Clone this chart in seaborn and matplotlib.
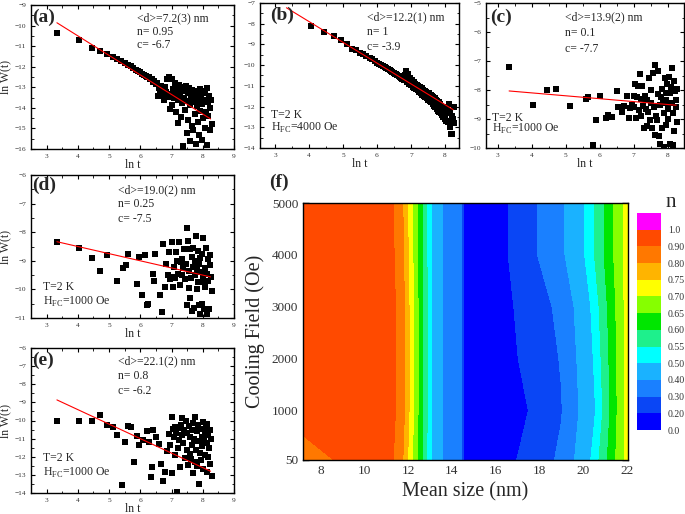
import matplotlib.pyplot as plt
import matplotlib.ticker as mticker
import seaborn as sns

sns.set_theme(style="ticks")
plt.rcParams["font.family"] = ["Liberation Serif", "DejaVu Serif"]
plt.rcParams["mathtext.fontset"] = "custom"
plt.rcParams["mathtext.rm"] = "Liberation Serif"
plt.rcParams["axes.linewidth"] = 1.0
plt.rcParams["axes.edgecolor"] = "black"

# ---------------------------------------------------------------
# data
# ---------------------------------------------------------------
fit_range = [3.33, 8.25]

# (a) <d>=7.2 nm
lnt_a = [3.33, 4.04, 4.44, 4.72, 4.94, 5.11, 5.26, 5.39, 5.50, 5.60, 5.69, 5.78, 5.86, 5.93,
         6.00, 6.06, 6.12, 6.17, 6.23, 6.28, 6.32, 6.37, 6.41, 6.45, 6.49, 6.53, 6.57, 6.60,
         6.64, 6.67, 6.71, 6.74, 6.77, 6.80, 6.83, 6.86, 6.89, 6.92, 6.95, 6.97, 7.00, 7.03,
         7.05, 7.08, 7.10, 7.13, 7.15, 7.18, 7.20, 7.22, 7.25, 7.27, 7.30, 7.32, 7.34, 7.37,
         7.39, 7.41, 7.43, 7.45, 7.48, 7.50, 7.52, 7.54, 7.56, 7.58, 7.60, 7.62, 7.64, 7.66,
         7.68, 7.70, 7.72, 7.74, 7.76, 7.78, 7.80, 7.82, 7.84, 7.86, 7.88, 7.90, 7.92, 7.94,
         7.96, 7.98, 8.00, 8.02, 8.04, 8.06, 8.08, 8.10, 8.12, 8.14, 8.16, 8.18, 8.20, 8.22,
         8.24, 8.26, 8.28]
lnw_a = [-10.35, -10.72, -11.1, -11.25, -11.4, -11.52, -11.62, -11.72, -11.82, -11.9, -11.98,
         -12.05, -12.15, -12.22, -12.28, -12.35, -12.4, -12.45, -12.52, -12.48, -12.62, -12.58,
         -12.72, -12.68, -12.85, -12.78, -13.42, -13.05, -13.18, -12.95, -13.32, -13.1, -13.62,
         -13.0, -13.25, -12.6, -13.45, -12.5, -14.05, -13.35, -12.62, -13.85, -13.1, -13.5,
         -12.8, -14.2, -13.3, -13.05, -14.75, -13.6, -12.9, -13.4, -14.45, -13.2, -13.75,
         -15.85, -13.0, -13.5, -14.1, -12.95, -13.65, -15.2, -13.3, -14.6, -13.05, -13.85,
         -15.6, -13.4, -14.9, -13.15, -13.7, -15.1, -13.55, -14.3, -13.2, -15.75, -13.9,
         -13.35, -14.7, -13.6, -15.3, -13.1, -14.15, -13.45, -15.55, -13.8, -13.2, -14.5,
         -13.6, -15.0, -13.3, -14.2, -13.05, -15.8, -13.7, -14.4, -13.4, -15.1, -14.0, -13.6,
         -14.8]

# (b) <d>=12.2 nm
lnt_b = [4.04, 4.44, 4.72, 4.94, 5.11, 5.26, 5.39, 5.50, 5.60, 5.69, 5.78, 5.86, 5.93, 6.00,
         6.06, 6.12, 6.17, 6.23, 6.28, 6.32, 6.37, 6.41, 6.45, 6.49, 6.53, 6.57, 6.60, 6.64,
         6.67, 6.71, 6.74, 6.77, 6.80, 6.83, 6.86, 6.89, 6.92, 6.95, 6.97, 7.00, 7.03, 7.05,
         7.08, 7.10, 7.13, 7.15, 7.18, 7.20, 7.22, 7.25, 7.27, 7.30, 7.32, 7.34, 7.37, 7.39,
         7.41, 7.43, 7.45, 7.48, 7.50, 7.52, 7.54, 7.56, 7.58, 7.60, 7.62, 7.64, 7.66, 7.68,
         7.70, 7.72, 7.74, 7.76, 7.78, 7.80, 7.82, 7.84, 7.86, 7.88, 7.90, 7.92, 7.94, 7.96,
         7.98, 8.00, 8.02, 8.04, 8.06, 8.08, 8.10, 8.12, 8.14, 8.16, 8.18, 8.20, 8.22, 8.24,
         8.26, 8.28]
lnw_b = [-8.1, -8.4, -8.6, -8.8, -9.0, -9.2, -9.28, -9.4, -9.48, -9.55, -9.65, -9.72, -9.8,
         -9.88, -9.95, -10.0, -10.05, -10.1, -10.15, -10.2, -10.25, -10.28, -10.33, -10.38,
         -10.42, -10.45, -10.5, -10.52, -10.58, -10.6, -10.65, -10.68, -10.72, -10.5, -10.3,
         -10.8, -10.45, -10.9, -10.6, -10.95, -10.7, -11.05, -10.8, -11.1, -10.9, -11.15,
         -10.95, -11.2, -11.0, -11.3, -11.05, -11.35, -11.1, -11.45, -11.2, -11.5, -11.25,
         -11.55, -11.3, -11.6, -11.4, -11.7, -11.35, -11.75, -11.45, -11.8, -11.5, -11.9,
         -11.55, -11.95, -11.6, -12.0, -11.7, -12.1, -11.75, -12.2, -11.8, -12.25, -11.9,
         -12.3, -11.95, -12.4, -12.0, -12.5, -12.05, -12.6, -12.1, -12.7, -12.15, -12.3,
         -12.75, -11.9, -13.0, -12.2, -13.3, -12.45, -13.3, -12.6, -12.0, -12.8]

# (c) <d>=13.9 nm
lnt_c = [3.33, 4.04, 4.44, 4.72, 5.11, 5.60, 5.65, 5.80, 5.90, 6.00, 6.17, 6.25, 6.35, 6.50,
         6.55, 6.66, 6.72, 6.80, 6.85, 6.90, 6.95, 7.00, 7.02, 7.05, 7.07, 7.10, 7.13, 7.15,
         7.18, 7.20, 7.22, 7.25, 7.28, 7.30, 7.33, 7.35, 7.38, 7.40, 7.43, 7.45, 7.48, 7.50,
         7.52, 7.55, 7.57, 7.60, 7.62, 7.64, 7.66, 7.68, 7.70, 7.72, 7.74, 7.76, 7.78, 7.80,
         7.82, 7.84, 7.86, 7.88, 7.90, 7.92, 7.94, 7.96, 7.98, 8.00, 8.02, 8.04, 8.06, 8.08,
         8.10, 8.12, 8.14, 8.16, 8.18, 8.20, 8.22, 8.24, 8.26, 8.28, 8.15, 8.25, 7.95, 8.05]
lnw_c = [-7.2, -8.5, -8.0, -7.97, -8.55, -8.3, -8.25, -9.9, -9.02, -8.22, -8.95, -8.85, -8.92,
         -8.05, -8.6, -8.75, -8.55, -8.2, -8.95, -8.62, -8.5, -8.2, -8.6, -7.8, -8.95, -8.25,
         -7.85, -8.7, -7.45, -8.3, -8.9, -7.85, -8.55, -9.3, -8.2, -8.65, -8.35, -9.25, -8.75,
         -7.6, -9.05, -8.45, -8.0, -9.3, -7.4, -8.6, -9.55, -7.15, -8.9, -9.05, -7.35, -8.15,
         -9.6, -8.5, -9.85, -8.25, -7.95, -9.3, -8.45, -8.8, -9.95, -7.6, -8.35, -9.2, -7.8,
         -8.65, -9.0, -7.55, -8.1, -9.85, -7.9, -8.45, -7.25, -8.8, -9.4, -7.7, -8.05, -8.6,
         -9.1, -7.95, -9.9, -8.35, -8.1, -8.45]

# (d) <d>=19.0 nm
lnt_d = [3.33, 4.04, 4.44, 4.72, 4.94, 5.26, 5.45, 5.55, 5.60, 5.88, 5.95, 6.05, 6.15, 6.22,
         6.26, 6.40, 6.45, 6.48, 6.62, 6.68, 6.72, 6.78, 6.82, 6.88, 6.92, 6.95, 7.00, 7.02,
         7.05, 7.08, 7.12, 7.15, 7.18, 7.22, 7.25, 7.28, 7.30, 7.33, 7.35, 7.38, 7.40, 7.42,
         7.45, 7.48, 7.50, 7.52, 7.55, 7.58, 7.60, 7.62, 7.64, 7.66, 7.68, 7.70, 7.72, 7.74,
         7.76, 7.78, 7.80, 7.82, 7.84, 7.86, 7.88, 7.90, 7.92, 7.94, 7.96, 7.98, 8.00, 8.02,
         8.04, 8.06, 8.08, 8.10, 8.12, 8.14, 8.16, 8.18, 8.20, 8.22, 8.24, 8.26, 8.28, 7.57,
         7.87, 8.05]
lnw_d = [-8.35, -8.55, -8.9, -9.35, -8.8, -9.7, -9.25, -9.15, -8.75, -9.8, -8.85, -10.2, -8.8,
         -10.55, -10.5, -9.45, -9.7, -8.75, -10.2, -10.8, -8.4, -9.9, -9.1, -9.5, -8.7, -9.65,
         -9.55, -8.35, -9.9, -9.2, -9.6, -8.7, -9.0, -9.45, -8.35, -9.85, -9.05, -8.95, -9.5,
         -9.25, -8.6, -9.65, -9.1, -7.85, -10.55, -8.3, -9.35, -10.3, -8.6, -9.6, -8.85,
         -10.75, -9.2, -8.55, -10.65, -9.0, -9.5, -8.15, -10.0, -9.3, -8.65, -9.75, -9.1,
         -10.85, -8.9, -9.4, -10.5, -8.75, -9.6, -8.2, -10.7, -9.25, -9.9, -8.55, -10.85,
         -9.45, -8.95, -9.7, -10.7, -9.15, -8.8, -9.55, -10.05, -9.95, -10.55, -9.75]

# (e) <d>=22.1 nm
lnt_e = [3.33, 4.04, 4.44, 4.72, 4.94, 5.11, 5.26, 5.40, 5.50, 5.60, 5.69, 5.80, 5.88, 5.95,
         6.10, 6.20, 6.28, 6.35, 6.38, 6.42, 6.50, 6.60, 6.65, 6.72, 6.78, 6.85, 6.92, 6.95,
         7.00, 7.03, 7.05, 7.08, 7.10, 7.12, 7.15, 7.18, 7.20, 7.22, 7.25, 7.28, 7.30, 7.33,
         7.35, 7.38, 7.40, 7.42, 7.45, 7.48, 7.50, 7.52, 7.55, 7.58, 7.60, 7.62, 7.64, 7.66,
         7.68, 7.70, 7.72, 7.74, 7.76, 7.78, 7.80, 7.82, 7.84, 7.86, 7.88, 7.90, 7.92, 7.94,
         7.96, 7.98, 8.00, 8.02, 8.04, 8.06, 8.08, 8.10, 8.12, 8.14, 8.16, 8.18, 8.20, 8.22,
         8.24, 8.26, 8.28, 7.95, 8.15]
lnw_e = [-10.0, -10.0, -10.0, -9.7, -10.25, -10.35, -10.8, -13.55, -11.2, -10.3, -10.35, -12.3,
         -10.85, -11.35, -11.1, -10.6, -11.2, -13.1, -12.55, -10.5, -10.9, -11.3, -12.4,
         -13.35, -12.85, -11.7, -10.75, -11.35, -12.9, -9.8, -10.45, -10.9, -11.9, -10.35,
         -10.7, -13.95, -11.5, -10.4, -11.1, -12.55, -10.25, -10.8, -9.85, -11.25, -10.55,
         -12.05, -10.0, -11.6, -10.7, -12.45, -10.3, -11.85, -10.9, -12.1, -10.5, -11.35,
         -12.9, -10.15, -11.0, -12.3, -9.8, -11.65, -10.6, -12.5, -11.15, -10.25, -13.5,
         -11.8, -10.45, -12.2, -10.9, -11.4, -10.1, -12.7, -11.1, -10.6, -11.9, -10.35,
         -12.85, -11.25, -10.8, -12.0, -11.5, -10.55, -12.4, -11.0, -13.05, -10.45, -10.2]

# (f) exponent n map: mean size (nm) x cooling field (Oe)
sizes = [7.2, 10.0, 11.3, 13.1, 13.6, 14.45, 14.6, 15.5, 17.0, 19.0, 20.5, 22.1]
fields = [50, 1000, 2000, 3000, 4000, 5000]
n_map = [
    [0.85, 0.95, 0.905, 0.495, 0.395, 0.31, 0.15, 0.12, 0.202, 0.318, 0.521, 0.73],
    [0.95, 0.95, 0.93, 0.495, 0.395, 0.31, 0.15, 0.12, 0.169, 0.294, 0.49, 0.733],
    [0.95, 0.95, 0.93, 0.495, 0.395, 0.31, 0.15, 0.12, 0.198, 0.306, 0.505, 0.73],
    [0.95, 0.95, 0.93, 0.495, 0.395, 0.31, 0.15, 0.12, 0.21, 0.324, 0.52, 0.73],
    [0.95, 0.95, 0.915, 0.495, 0.395, 0.31, 0.15, 0.12, 0.232, 0.381, 0.548, 0.73],
    [0.95, 0.95, 0.905, 0.495, 0.395, 0.31, 0.15, 0.12, 0.232, 0.381, 0.548, 0.73],
]
n_levels = [0, 0.2, 0.3, 0.4, 0.5, 0.55, 0.6, 0.65, 0.7, 0.75, 0.8, 0.9, 1.0, 1.1]
n_labels = ["0.0", "0.20", "0.30", "0.40", "0.50", "0.55", "0.60", "0.65", "0.70",
            "0.75", "0.80", "0.90", "1.0"]
n_colors = ["#0000ff", "#0a46f5", "#1a80ff", "#1ab2ff", "#00ffff", "#1ef08c", "#00e600",
            "#86ff00", "#ffff00", "#ffb400", "#ff7800", "#ff4a00", "#ff00ff"]

W, H = 685, 514
fig = plt.figure(figsize=(W / 100, H / 100), dpi=100)


def box(x0, x1, top, bottom):
    return [x0 / W, 1 - bottom / H, (x1 - x0) / W, (bottom - top) / H]


def style_axes(ax, size):
    ax.tick_params(which="both", direction="in", top=True, right=True,
                   labelsize=size, colors="black", labelcolor="#333333")
    ax.tick_params(which="major", length=3, width=0.8)
    ax.tick_params(which="minor", length=1.8, width=0.6)
    for sp in ax.spines.values():
        sp.set_visible(True)
        sp.set_color("black")


def relax_panel(rect, lnt, lnw, n, c, xlim, ylim, xticks, letter, letter_xy,
                d_text, text_x, text_y, field=None, field_y=None, ylabel=True):
    ax = fig.add_axes(rect)
    sns.scatterplot(x=lnt, y=lnw, marker="s", color="black", s=16, linewidth=0,
                    ax=ax, zorder=2)
    sns.lineplot(x=fit_range, y=[c - n * v for v in fit_range], color="red",
                 linewidth=0.8, ax=ax, zorder=3)
    ax.set_xlim(*xlim)
    ax.set_ylim(*ylim)
    ax.set_xticks(xticks)
    ax.set_yticks(range(int(ylim[0]), int(ylim[1]) + 1))
    ax.xaxis.set_minor_locator(mticker.MultipleLocator(0.5))
    ax.yaxis.set_minor_locator(mticker.MultipleLocator(0.5))
    style_axes(ax, 5.3)
    ax.set_xlabel("ln t", fontsize=8.5, labelpad=0)
    if ylabel:
        ax.set_ylabel("ln W(t)", fontsize=8.5)
        ax.yaxis.set_label_coords(-0.098, 0.5)
    else:
        ax.set_ylabel("")
    ax.text(letter_xy[0], letter_xy[1], letter, transform=ax.transAxes,
            fontsize=14, fontweight="bold", va="center", ha="left")
    lines = [d_text, f"n= {n:g}", f"c= {c:g}"]
    for line, ty in zip(lines, text_y):
        ax.text(text_x, ty, line, transform=ax.transAxes, fontsize=8.5,
                va="center", ha="left")
    if field is not None:
        ax.text(field[0], field_y[0], "T=2 K", transform=ax.transAxes,
                fontsize=8.5, va="center", ha="left")
        ax.text(field[0], field_y[1], r"H$_{\rm FC}$=" + field[1] + " Oe",
                transform=ax.transAxes, fontsize=8.5, va="center", ha="left")
    return ax


relax_panel(box(31, 234, 5, 149), lnt_a, lnw_a, 0.95, -6.7, (2.5, 9), (-16, -9),
            range(3, 10), "(a)", (0.005, 0.915), "<d>=7.2(3) nm", 0.52,
            [0.91, 0.81, 0.72])
relax_panel(box(260, 459, 3, 148), lnt_b, lnw_b, 1, -3.9, (2.55, 8.42), (-14, -7),
            range(3, 9), "(b)", (0.05, 0.915), "<d>=12.2(1) nm", 0.54,
            [0.90, 0.80, 0.70], field=(0.055, "4000"), field_y=[0.23, 0.14],
            ylabel=False)
relax_panel(box(486, 684, 3, 148), lnt_c, lnw_c, 0.1, -7.7, (2.65, 8.48), (-10, -5),
            range(3, 9), "(c)", (0.02, 0.90), "<d>=13.9(2) nm", 0.40,
            [0.90, 0.79, 0.68], field=(0.03, "1000"), field_y=[0.21, 0.13],
            ylabel=False)
relax_panel(box(31, 234, 175, 318), lnt_d, lnw_d, 0.25, -7.5, (2.5, 9), (-11, -6),
            range(3, 10), "(d)", (0.005, 0.93), "<d>=19.0(2) nm", 0.43,
            [0.895, 0.80, 0.69], field=(0.06, "1000"), field_y=[0.22, 0.11])
relax_panel(box(31, 234, 348, 493), lnt_e, lnw_e, 0.8, -6.2, (2.5, 9), (-14, -6),
            range(3, 10), "(e)", (0.005, 0.917), "<d>=22.1(2) nm", 0.43,
            [0.91, 0.81, 0.70], field=(0.06, "1000"), field_y=[0.24, 0.14])

# ---------------------------------------------------------------
# (f) contour map of n
# ---------------------------------------------------------------
axf = fig.add_axes(box(303, 628, 203, 460))
cs = axf.contourf(sizes, fields, n_map, levels=n_levels, colors=n_colors,
                  antialiased=False)
axf.set_xlim(7.2, 22.05)
axf.set_ylim(50, 5000)
axf.set_xticks(range(8, 23, 2))
axf.set_yticks(fields)
axf.xaxis.set_minor_locator(mticker.MultipleLocator(1))
axf.yaxis.set_minor_locator(mticker.FixedLocator([500, 1500, 2500, 3500, 4500]))
style_axes(axf, 9.5)
axf.tick_params(which="major", length=4, width=1)
axf.tick_params(which="minor", length=2.5, width=0.8)
axf.set_xlabel("Mean size (nm)", fontsize=14.5, labelpad=4)
axf.set_ylabel("Cooling Field (Oe)", fontsize=14.5, labelpad=5)
fig.text(269 / W, 1 - 182 / H, "(f)", fontsize=14, fontweight="bold",
         va="center", ha="left")

cax = fig.add_axes(box(637, 661, 213, 430))
cb = fig.colorbar(cs, cax=cax, spacing="uniform", ticks=n_levels[:-1])
cb.ax.set_yticklabels(n_labels)
cb.outline.set_visible(False)
cax.tick_params(length=0, labelsize=7, pad=5, colors="#333333")
fig.text(666 / W, 1 - 203 / H, "n", fontsize=15, va="center", ha="left")

plt.savefig("out.png", dpi=100)
